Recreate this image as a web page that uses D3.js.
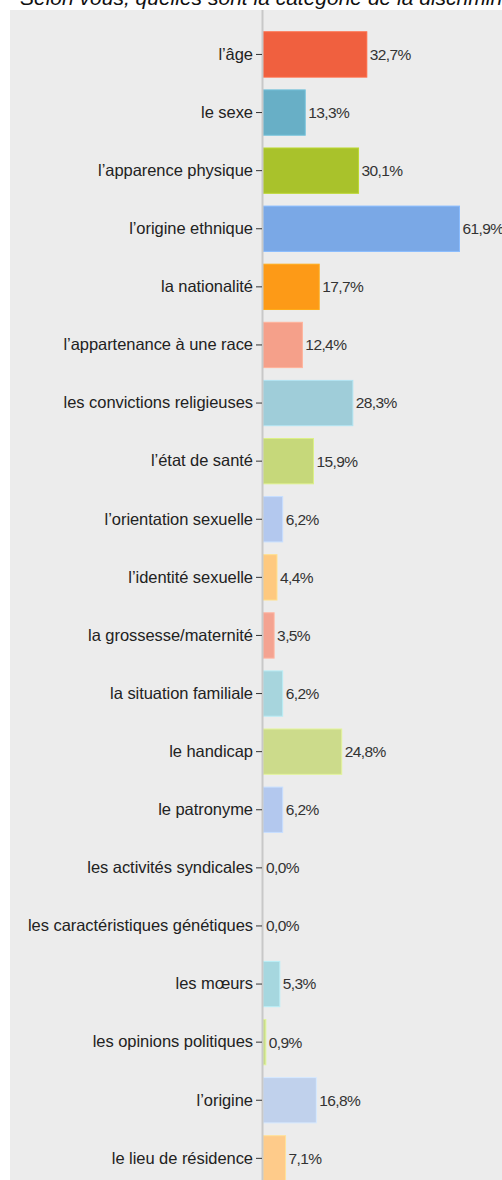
<!DOCTYPE html>
<html>
<head>
<meta charset="utf-8">
<script src="https://cdn.jsdelivr.net/npm/d3@7"></script>
<style>
  body { margin: 0; background: #fff; }
  svg { display: block; }
</style>
</head>
<body>
<svg id="chart" width="502" height="1180"></svg>
<script>
// categories and values (%)
const categories = [
  "l\u2019âge", "le sexe", "l\u2019apparence physique", "l\u2019origine ethnique",
  "la nationalité", "l\u2019appartenance à une race", "les convictions religieuses",
  "l\u2019état de santé", "l\u2019orientation sexuelle", "l\u2019identité sexuelle",
  "la grossesse/maternité", "la situation familiale", "le handicap", "le patronyme",
  "les activités syndicales", "les caractéristiques génétiques", "les mœurs",
  "les opinions politiques", "l\u2019origine", "le lieu de résidence"
];
const values = [32.7, 13.3, 30.1, 61.9, 17.7, 12.4, 28.3, 15.9, 6.2, 4.4,
                3.5, 6.2, 24.8, 6.2, 0.0, 0.0, 5.3, 0.9, 16.8, 7.1];
const colors = ["#f0603f", "#68afc6", "#a9c22b", "#7aa8e6", "#fd9a17", "#f5a08a",
                "#9fcdd9", "#c6d87a", "#b3c8ee", "#fec97f", "#f4a391", "#a7d5dd",
                "#ccdb8b", "#b3c8ee", "#b3c8ee", "#b3c8ee", "#a6d7df", "#c9dc8a",
                "#c0d1ec", "#fecb8a"];
const title = "Selon vous, quelles sont la catégorie de la discrimination pour";

const svg = d3.select("#chart");
const W = 502, H = 1180;
const panel = {x: 10, y: 10};
const axisX = 263;
const font = "Liberation Sans, Arial, sans-serif";

// title (mostly cropped off the top, as in the original)
svg.append("text")
  .attr("x", 20).attr("y", 5)
  .attr("font-family", font)
  .attr("font-style", "italic")
  .attr("font-size", 21)
  .attr("fill", "#111")
  .text(title);

svg.append("rect")
  .attr("x", panel.x).attr("y", panel.y)
  .attr("width", W - panel.x).attr("height", H - panel.y)
  .attr("fill", "#ececec");

const y = d3.scaleBand()
  .domain(categories)
  .range([25.4, 1187.4])
  .paddingInner(0.22)
  .paddingOuter(0.11);

const x = d3.scaleLinear()
  .domain([0, 61.9])
  .range([axisX, 459.5]);

const data = categories.map((c, i) => ({cat: c, val: values[i], color: colors[i]}));

svg.append("g").selectAll("rect")
  .data(data)
  .join("rect")
  .attr("x", x(0))
  .attr("y", d => y(d.cat))
  .attr("width", d => x(d.val) - x(0))
  .attr("height", y.bandwidth())
  .attr("fill", d => d.color)
  .attr("stroke", d => d3.color(d.color).brighter(0.3))
  .attr("stroke-width", 1);

svg.append("g").selectAll("text")
  .data(data)
  .join("text")
  .attr("x", d => x(d.val) + 3)
  .attr("y", d => y(d.cat) + y.bandwidth() / 2)
  .attr("dy", "0.35em")
  .attr("font-family", font)
  .attr("font-size", 15.5)
  .attr("letter-spacing", -0.6)
  .attr("fill", "#333")
  .text(d => d.val.toFixed(1).replace(".", ",") + "%");

// axis line
svg.append("line")
  .attr("x1", axisX - 0.5).attr("x2", axisX - 0.5)
  .attr("y1", panel.y).attr("y2", H)
  .attr("stroke", "#c8c8c8").attr("stroke-width", 2);

const axis = d3.axisLeft(y).tickSize(6).tickPadding(3);
const g = svg.append("g")
  .attr("transform", `translate(${axisX - 1},0)`)
  .call(axis);
g.select(".domain").remove();
g.selectAll(".tick line").attr("stroke", "#333");
g.selectAll(".tick text")
  .attr("font-family", font)
  .attr("font-size", 16.5)
  .attr("letter-spacing", -0.05)
  .attr("fill", "#222");
</script>
</body>
</html>
